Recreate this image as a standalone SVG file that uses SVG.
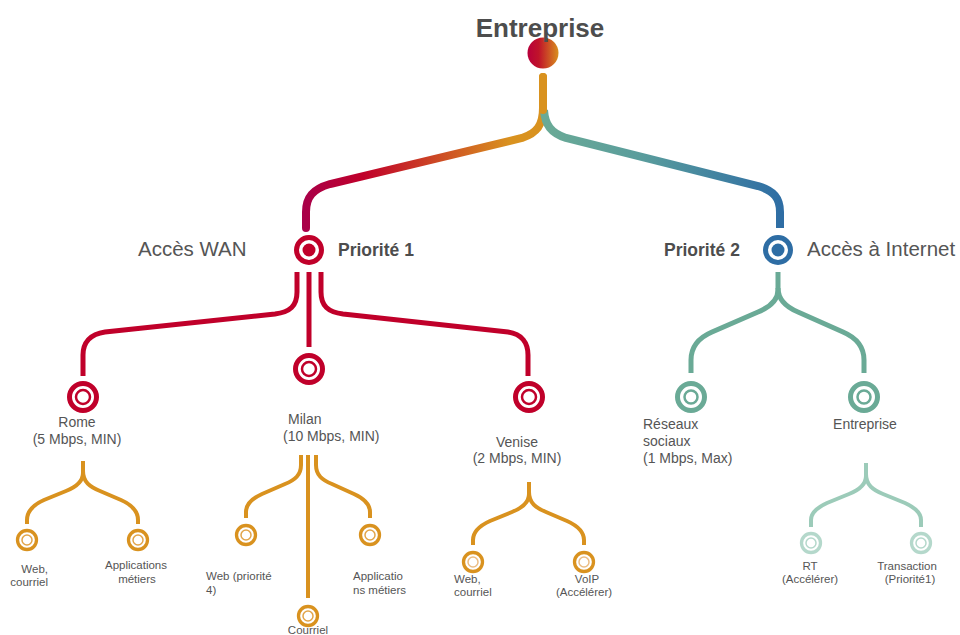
<svg xmlns="http://www.w3.org/2000/svg" width="960" height="635" viewBox="0 0 960 635">
<defs>
<linearGradient id="gTop" x1="528" y1="0" x2="559" y2="0" gradientUnits="userSpaceOnUse">
<stop offset="0" stop-color="#b8003a"/><stop offset="0.35" stop-color="#c0142a"/><stop offset="1" stop-color="#d9921f"/>
</linearGradient>
<linearGradient id="gLeft" x1="302" y1="0" x2="547" y2="0" gradientUnits="userSpaceOnUse">
<stop offset="0" stop-color="#a8004a"/><stop offset="0.25" stop-color="#c0002a"/><stop offset="0.85" stop-color="#d9921f"/><stop offset="1" stop-color="#d9921f"/>
</linearGradient>
<linearGradient id="gRight" x1="545" y1="0" x2="782" y2="0" gradientUnits="userSpaceOnUse">
<stop offset="0" stop-color="#6aaa96"/><stop offset="0.4" stop-color="#5a9d9c"/><stop offset="1" stop-color="#2e6da4"/>
</linearGradient>
</defs>
<style>
.t{font-family:"Liberation Sans",Arial,sans-serif;fill:#555}
.b{font-weight:bold;fill:#4d4d4d}
.lbl{font-size:14px}
.sm{font-size:11.5px}
.red{stroke:#c0002a;fill:none;stroke-width:5}
.tea{stroke:#6aaa96;fill:none;stroke-width:5}
.or{stroke:#d9921f;fill:none;stroke-width:4}
.lt{stroke:#9ccbb9;fill:none;stroke-width:4}
</style>
<g id="connectors">
<path d="M543,77 V108 C543,125 537,133 522,138 L330,184 C313,189 306,197 306,212 V228" fill="none" stroke="url(#gLeft)" stroke-width="8" stroke-linecap="round"/>
<path d="M544,110 C545,125 551,133 566,138 L758,186 C774,191 780,198 780,212 V228" fill="none" stroke="url(#gRight)" stroke-width="8"/>
<path d="M543,77 V110" fill="none" stroke="#d9921f" stroke-width="8" stroke-linecap="round"/>
<path class="red" d="M297,272 V292 C297,306 290,312 275,314 L105,332 C90,334 83,343 83,355 V376"/>
<path class="red" d="M309,272 V347"/>
<path class="red" d="M321,272 V292 C321,306 328,312 343,314 L508,332 C522,334 528,343 528,355 V376"/>
<path class="tea" d="M778,272 V290 C778,300 770,307 758,312 L712,332 C698,338 691,348 691,360 V373"/>
<path class="tea" d="M778,288 C778,300 786,307 798,312 L843,332 C857,338 864,348 864,360 V373"/>
<path class="or" d="M83,461 V473 C83,482 76,487 66,491 L44,500 C33,505 27,512 27,520 V524"/>
<path class="or" d="M83,471 C83,482 90,487 100,491 L121,500 C132,505 138,512 138,520 V524"/>
<path class="or" d="M301,455 V465 C301,475 295,480 285,484 L262,494 C251,499 246,505 246,512 V518"/>
<path class="or" d="M308,455 V598"/>
<path class="or" d="M316,455 V465 C316,475 322,480 332,484 L354,494 C365,499 370,505 370,512 V518"/>
<path class="or" d="M529,482 V494 C529,503 522,508 512,512 L490,521 C479,526 473,532 473,540 V545"/>
<path class="or" d="M529,492 C529,503 536,508 546,512 L567,521 C578,526 584,532 584,540 V545"/>
<path class="lt" d="M866,463 V476 C866,485 859,490 849,494 L827,503 C816,508 811,514 811,520 V527"/>
<path class="lt" d="M866,474 C866,485 873,490 883,494 L905,503 C916,508 921,514 921,520 V527"/>
</g>
<g id="root">
<circle cx="543" cy="53" r="15.5" fill="url(#gTop)"/>
<text class="t b" x="540" y="37" font-size="26" text-anchor="middle">Entreprise</text>
</g>
<g id="wan">
<circle cx="309" cy="250" r="12.5" fill="#fff" stroke="#c0002a" stroke-width="5"/>
<circle cx="309" cy="250" r="6.5" fill="#c0002a"/>
<text class="t" x="138" y="256" font-size="20.5">Accès WAN</text>
<text class="t b" x="338" y="256" font-size="17.5">Priorité 1</text>
</g>
<g id="internet">
<circle cx="778" cy="250" r="12.5" fill="#fff" stroke="#2e6da4" stroke-width="5"/>
<circle cx="778" cy="250" r="6.5" fill="#2e6da4"/>
<text class="t b" x="664" y="256" font-size="17.5">Priorité 2</text>
<text class="t" x="807" y="256" font-size="20.5">Accès à Internet</text>
</g>
<g id="rome">
<circle cx="83" cy="397" r="13.5" fill="#fff" stroke="#c0002a" stroke-width="5"/>
<circle cx="83" cy="397" r="7" fill="none" stroke="#c0002a" stroke-width="2.5"/>
<text class="t lbl" x="77" y="427" text-anchor="middle">Rome</text>
<text class="t lbl" x="77" y="444" text-anchor="middle">(5 Mbps, MIN)</text>
</g>
<g id="milan">
<circle cx="309" cy="369" r="13.5" fill="#fff" stroke="#c0002a" stroke-width="5"/>
<circle cx="309" cy="369" r="7" fill="none" stroke="#c0002a" stroke-width="2.5"/>
<text class="t lbl" x="288" y="424">Milan</text>
<text class="t lbl" x="283" y="441">(10 Mbps, MIN)</text>
</g>
<g id="venise">
<circle cx="529" cy="397" r="13.5" fill="#fff" stroke="#c0002a" stroke-width="5"/>
<circle cx="529" cy="397" r="7" fill="none" stroke="#c0002a" stroke-width="2.5"/>
<text class="t lbl" x="517" y="447" text-anchor="middle">Venise</text>
<text class="t lbl" x="517" y="463" text-anchor="middle">(2 Mbps, MIN)</text>
</g>
<g id="reseaux">
<circle cx="691" cy="397" r="13.5" fill="#fff" stroke="#6aaa96" stroke-width="5"/>
<circle cx="691" cy="397" r="6.5" fill="none" stroke="#6aaa96" stroke-width="2.5"/>
<text class="t lbl" x="643" y="429">Réseaux</text>
<text class="t lbl" x="643" y="446">sociaux</text>
<text class="t lbl" x="643" y="463">(1 Mbps, Max)</text>
</g>
<g id="entreprise2">
<circle cx="864" cy="397" r="13.5" fill="#fff" stroke="#6aaa96" stroke-width="5"/>
<circle cx="864" cy="397" r="6.5" fill="none" stroke="#6aaa96" stroke-width="2.5"/>
<text class="t lbl" x="865" y="429" text-anchor="middle">Entreprise</text>
</g>
<g id="rome-web">
<circle cx="27" cy="540" r="9.5" fill="#fff" stroke="#d9921f" stroke-width="3.3"/>
<circle cx="27" cy="540" r="5" fill="none" stroke="#e2a54a" stroke-width="1.5"/>
<text class="t sm" x="48" y="573" text-anchor="end">Web,</text>
<text class="t sm" x="48" y="586" text-anchor="end">courriel</text>
</g>
<g id="rome-app">
<circle cx="138" cy="540" r="9.5" fill="#fff" stroke="#d9921f" stroke-width="3.3"/>
<circle cx="138" cy="540" r="5" fill="none" stroke="#e2a54a" stroke-width="1.5"/>
<text class="t sm" x="136" y="569" text-anchor="middle">Applications</text>
<text class="t sm" x="137" y="583" text-anchor="middle">métiers</text>
</g>
<g id="milan-web">
<circle cx="246" cy="535" r="9.5" fill="#fff" stroke="#d9921f" stroke-width="3.3"/>
<circle cx="246" cy="535" r="5" fill="none" stroke="#e2a54a" stroke-width="1.5"/>
<text class="t sm" x="206" y="580">Web (priorité</text>
<text class="t sm" x="206" y="594">4)</text>
</g>
<g id="milan-app">
<circle cx="370" cy="535" r="9.5" fill="#fff" stroke="#d9921f" stroke-width="3.3"/>
<circle cx="370" cy="535" r="5" fill="none" stroke="#e2a54a" stroke-width="1.5"/>
<text class="t sm" x="353" y="580">Applicatio</text>
<text class="t sm" x="353" y="594">ns métiers</text>
</g>
<g id="milan-mail">
<circle cx="308" cy="616" r="9.5" fill="#fff" stroke="#d9921f" stroke-width="3.3"/>
<circle cx="308" cy="616" r="5" fill="none" stroke="#e2a54a" stroke-width="1.5"/>
<text class="t sm" x="308" y="634" text-anchor="middle">Courriel</text>
</g>
<g id="venise-web">
<circle cx="473" cy="562" r="9.5" fill="#fff" stroke="#d9921f" stroke-width="3.3"/>
<circle cx="473" cy="562" r="5" fill="none" stroke="#ebbd84" stroke-width="1.5"/>
<text class="t sm" x="454" y="583">Web,</text>
<text class="t sm" x="454" y="596">courriel</text>
</g>
<g id="venise-voip">
<circle cx="584" cy="562" r="9.5" fill="#fff" stroke="#d9921f" stroke-width="3.3"/>
<circle cx="584" cy="562" r="5" fill="none" stroke="#ebbd84" stroke-width="1.5"/>
<text class="t sm" x="587" y="583" text-anchor="middle">VoIP</text>
<text class="t sm" x="584" y="596" text-anchor="middle">(Accélérer)</text>
</g>
<g id="rt">
<circle cx="811" cy="543" r="9.5" fill="#fff" stroke="#b4d8cb" stroke-width="3.3"/>
<circle cx="811" cy="543" r="5" fill="none" stroke="#b4d8cb" stroke-width="1.5"/>
<text class="t sm" x="810" y="570" text-anchor="middle">RT</text>
<text class="t sm" x="810" y="583" text-anchor="middle">(Accélérer)</text>
</g>
<g id="transaction">
<circle cx="921" cy="543" r="9.5" fill="#fff" stroke="#b4d8cb" stroke-width="3.3"/>
<circle cx="921" cy="543" r="5" fill="none" stroke="#b4d8cb" stroke-width="1.5"/>
<text class="t sm" x="907" y="570" text-anchor="middle">Transaction</text>
<text class="t sm" x="910" y="583" text-anchor="middle">(Priorité1)</text>
</g>
</svg>
